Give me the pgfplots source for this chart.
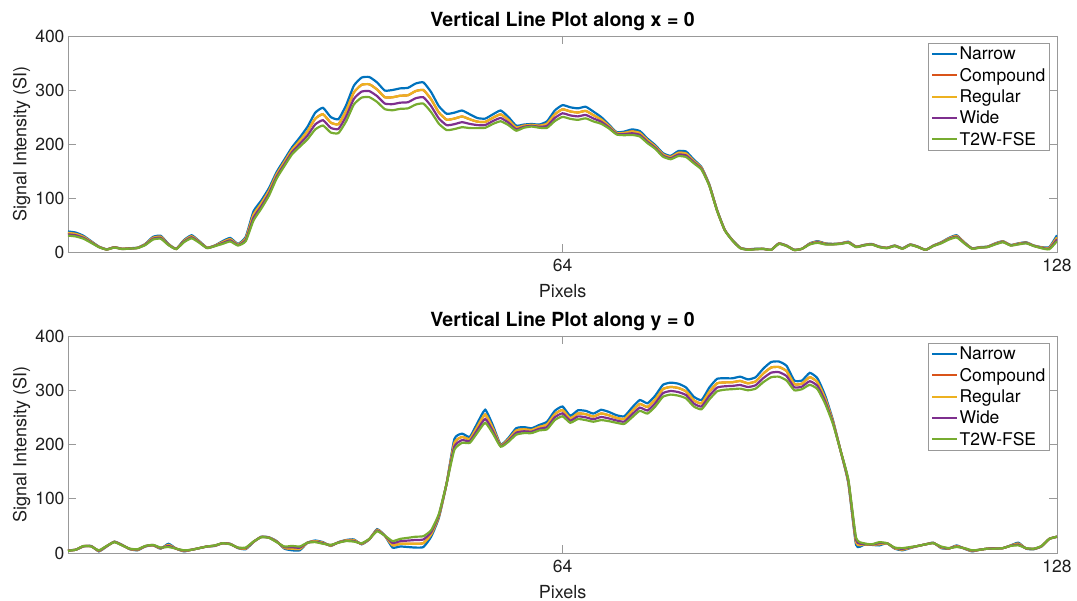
\documentclass[border=0pt]{standalone}
\usepackage{fontspec}
\setmainfont{TeX Gyre Heros}
\usepackage{pgfplots}
\usepackage{pgfplotstable}
\pgfplotsset{compat=1.18}
\definecolor{mblue}{rgb}{0,0.447,0.741}
\definecolor{mred}{rgb}{0.85,0.325,0.098}
\definecolor{myellow}{rgb}{0.929,0.694,0.125}
\definecolor{mpurple}{rgb}{0.494,0.184,0.556}
\definecolor{mgreen}{rgb}{0.466,0.674,0.188}

% columns: x narrow compound regular wide t2w
\pgfplotstableread{
x n c r w t
0 38 35.3 35.3 32.7 30.4
1 36 33.4 33.4 31 28.8
2 30 28.1 28.1 26.2 24.6
3 20 18.9 18.9 17.9 17
4 10 9.6 9.6 9.3 9
5 5 4.8 4.8 4.7 4.5
6 9 8.7 8.7 8.4 8.1
7 6 5.8 5.8 5.6 5.4
8 7 6.7 6.7 6.5 6.3
9 8 7.7 7.7 7.4 7.2
10 15 14.2 14.2 13.4 12.8
11 28 26.2 26.2 24.5 23
12 30 28.1 28.1 26.2 24.6
13 15 14.2 14.2 13.4 12.8
14 6 5.8 5.8 5.6 5.4
15 22 20.6 20.6 19.2 18
16 31 29 29 27.1 25.4
17 20 18.9 18.9 17.9 17
18 8 7.7 7.7 7.4 7.2
19 12 11.6 11.6 11.2 10.8
20 20 18.2 18.2 16.5 15
21 26 23.7 23.7 21.5 19.5
22 15 13.9 13.9 12.9 12
23 28 25.1 25.1 22.4 20
24 75 68.9 68.9 63.1 58
25 95 89.6 89.6 84.5 80
26 118 113 113 108.2 104
27 148 143.7 143.7 139.6 136
28 171 166.7 166.7 162.6 159
29 194 189.3 189.3 184.9 181
30 212 205.9 205.9 200.1 195
31 232 223.6 223.6 215.8 208.8
32 258 246.9 246.9 236.3 227
33 267 255.2 255.2 244 234.2
34 250 239.7 239.7 229.9 221.3
35 246 236.7 236.7 227.9 220.2
36 272 261.2 261.2 251.1 242.1
37 308 295.5 295.5 283.6 273.2
38 323 309.6 309.6 297 285.9
39 324 310.6 310.6 297.9 286.7
40 314 301 301 288.7 277.9
41 299 286.6 286.6 274.9 264.6
42 300 286.5 286.5 273.8 262.5
43 303 289.4 289.4 276.5 265.1
44 304 290.3 290.3 277.4 266
45 312 298 298 284.7 273
46 314 299.9 299.9 286.5 274.8
47 296 282.7 282.7 270.1 259
48 270 258.3 258.3 247.3 237.6
49 256 245.1 245.1 234.9 225.8
50 258 247 247 236.7 227.6
51 262 250.9 250.9 240.4 231.1
52 255 245.8 245.8 237.2 229.5
53 248 241.3 241.3 235 229.4
54 247 240.9 240.9 235.1 230
55 255 248.6 248.6 242.5 237.2
56 262 254.8 254.8 248.1 242.1
57 250 244.6 244.6 239.5 235
58 234 230.6 230.6 227.4 224.6
59 236 233.9 233.9 231.9 230.1
60 237 235.3 235.3 233.7 232.3
61 236 233.9 233.9 231.9 230.1
62 242 237.6 237.6 233.5 229.9
63 262 254.9 254.9 248.2 242.4
64 272 264.2 264.2 256.8 250.2
65 268 260.3 260.3 253 246.6
66 266 258.3 258.3 251.1 244.7
67 269 261.3 261.3 253.9 247.5
68 260 253.4 253.4 247.3 241.8
69 250 245.5 245.5 241.3 237.5
70 236 233.5 233.5 231 228.9
71 222 220.4 220.4 218.9 217.6
72 223 220.6 220.6 218.3 216.3
73 227 223.3 223.3 219.8 216.8
74 224 220.4 220.4 216.9 213.9
75 210 207 207 204.1 201.6
76 198 195.5 195.5 193.1 191.1
77 183 180.7 180.7 178.5 176.6
78 178 175.8 175.8 173.6 171.8
79 187 183.6 183.6 180.5 177.7
80 186 182.3 182.3 178.8 175.8
81 171 168.5 168.5 166.2 164.2
82 157 155.3 155.3 153.7 152.3
83 125 124.1 124.1 123.3 122.5
84 78 77.4 77.4 76.9 76.4
85 41 40.7 40.7 40.4 40.2
86 22 21.6 21.6 21.2 20.9
87 8 7.6 7.6 7.3 7
88 5 4.6 4.6 4.3 4
89 6 5.6 5.6 5.3 5
90 6 5.8 5.8 5.7 5.5
91 4 4 4 4 4
92 16 15.6 15.6 15.3 15
93 12 11.6 11.6 11.3 11
94 4 3.8 3.8 3.7 3.5
95 6 6 6 6 6
96 16 15.3 15.3 14.6 14
97 20 18.9 18.9 17.9 17
98 16 15.3 15.3 14.6 14
99 15 14.6 14.6 14.3 14
100 16 15.6 15.6 15.3 15
101 19 18.3 18.3 17.6 17
102 10 9.6 9.6 9.3 9
103 13 12.6 12.6 12.3 12
104 15 14.6 14.6 14.3 14
105 10 9.6 9.6 9.3 9
106 8 7.6 7.6 7.3 7
107 12 11.6 11.6 11.3 11
108 7 6.6 6.6 6.3 6
109 14 13.6 13.6 13.3 13
110 10 9.6 9.6 9.3 9
111 4 4 4 4 4
112 12 11.6 11.6 11.3 11
113 18 17.3 17.3 16.6 16
114 26 24.9 24.9 23.9 23
115 31 29.6 29.6 28.2 27
116 18 17.3 17.3 16.6 16
117 7 6.6 6.6 6.3 6
118 9 8.6 8.6 8.3 8
119 10 9.6 9.6 9.3 9
120 16 15.3 15.3 14.6 14
121 20 19.3 19.3 18.6 18
122 13 12.6 12.6 12.3 12
123 16 15.3 15.3 14.6 14
124 18 17.3 17.3 16.6 16
125 12 11.6 11.6 11.3 11
126 9 8.3 8.3 7.6 7
127 9 7.6 7.6 6.2 5
128 31 27 27 23.3 20
}\toptable

\pgfplotstableread{
x n c r w t
0 5 4.6 4.6 4.3 4
1 6 6 6 6 6
2 12 12.4 12.4 12.7 13
3 13 12.6 12.6 12.3 12
4 3 3.7 3.7 4.4 5
5 12 12.4 12.4 12.7 13
6 21 20.6 20.6 20.3 20
7 15 14.6 14.6 14.3 14
8 7 7.4 7.4 7.7 8
9 5 5.7 5.7 6.4 7
10 12 12.4 12.4 12.7 13
11 14 14.4 14.4 14.7 15
12 8 8.7 8.7 9.4 10
13 17 14.8 14.8 12.8 11
14 8 8 8 8 8
15 3 3.7 3.7 4.4 5
16 6 6 6 6 6
17 9 9 9 9 9
18 12 12 12 12 12
19 13 13.4 13.4 13.7 14
20 18 18 18 18 18
21 17 16.6 16.6 16.3 16
22 9 9.4 9.4 9.7 10
23 7 8.1 8.1 9.1 10
24 20 20.4 20.4 20.7 21
25 30 29.6 29.6 29.3 29
26 29 28.6 28.6 28.3 28
27 22 21.3 21.3 20.6 20
28 8 9.4 9.4 10.8 12
29 5 7.9 7.9 10.6 13
30 5 7.5 7.5 9.9 12
31 19 19 19 19 19
32 23 21.9 21.9 20.9 20
33 20 18.9 18.9 17.9 17
34 13 13.7 13.7 14.4 15
35 20 19.6 19.6 19.3 19
36 24 23.3 23.3 22.6 22
37 25 23.6 23.6 22.2 21
38 16 16.7 16.7 17.4 18
39 25 25.4 25.4 25.7 26
40 44 42.6 42.6 41.2 40
41 32 32 32 32 32
42 10 14.3 14.3 18.4 22
43 12 17 17 21.8 26
44 11 17.1 17.1 22.9 28
45 10 17.2 17.2 24 30
46 11 18.2 18.2 25 31
47 30 34.3 34.3 38.4 42
48 65 67.5 67.5 69.9 72
49 128 128 128 128 128
50 210 202.8 202.8 196 190
51 220 213.9 213.9 208.1 203
52 214 210 210 206.3 203
53 240 233.5 233.5 227.4 222
54 264 255.4 255.4 247.2 240
55 235 229.6 229.6 224.5 220
56 200 198.6 198.6 197.2 196
57 212 209.5 209.5 207.1 205
58 230 225.7 225.7 221.6 218
59 232 228 228 224.3 221
60 230 226.8 226.8 223.7 221
61 236 232.4 232.4 229 226
62 242 237 237 232.2 228
63 262 255.9 255.9 250.1 245
64 270 263.5 263.5 257.4 252
65 253 248.3 248.3 243.9 240
66 263 257.2 257.2 251.8 247
67 262 255.9 255.9 250.1 245
68 257 251.6 251.6 246.5 242
69 264 257.2 257.2 250.7 245
70 260 253.9 253.9 248.1 243
71 254 249 249 244.2 240
72 252 247 247 242.2 238
73 268 261.5 261.5 255.4 250
74 282 274.8 274.8 268 262
75 276 269.2 269.2 262.7 257
76 290 282.8 282.8 276 270
77 310 302.1 302.1 294.6 288
78 314 306.1 306.1 298.6 292
79 312 304.1 304.1 296.6 290
80 305 297.8 297.8 291 285
81 288 281.5 281.5 275.4 270
82 282 275.9 275.9 270.1 265
83 305 297.1 297.1 289.6 283
84 321 312.7 312.7 304.9 298
85 322 314.4 314.4 307.3 301
86 322 314.8 314.8 308 302
87 325 317.1 317.1 309.6 303
88 320 312.8 312.8 306 300
89 324 316.4 316.4 309.3 303
90 340 331 331 322.5 315
91 352 341.9 341.9 332.4 324
92 353 342.9 342.9 333.4 325
93 345 335.3 335.3 326.1 318
94 318 311.5 311.5 305.4 300
95 318 312.2 312.2 306.8 302
96 332 324.1 324.1 316.6 310
97 322 314.8 314.8 308 302
98 290 284.6 284.6 279.5 275
99 245 242.5 242.5 240.1 238
100 188 188 188 188 188
101 128 130.5 130.5 132.9 135
102 15 19.7 19.7 24.1 28
103 15 16.1 16.1 17.1 18
104 15 15.4 15.4 15.7 16
105 14 16.2 16.2 18.2 20
106 18 18 18 18 18
107 8 8.7 8.7 9.4 10
108 5 6.4 6.4 7.8 9
109 9 9.7 9.7 10.4 11
110 13 13 13 13 13
111 16 16 16 16 16
112 19 18.6 18.6 18.3 18
113 9 10.1 10.1 11.1 12
114 8 8.4 8.4 8.7 9
115 14 12.9 12.9 11.9 11
116 8 8.4 8.4 8.7 9
117 3 3.7 3.7 4.4 5
118 6 6 6 6 6
119 8 8 8 8 8
120 9 8.6 8.6 8.3 8
121 9 9 9 9 9
122 14 13.6 13.6 13.3 13
123 19 17.2 17.2 15.5 14
124 8 8.4 8.4 8.7 9
125 7 7.4 7.4 7.7 8
126 12 12.4 12.4 12.7 13
127 26 26 26 26 26
128 30 30 30 30 30
}\bottable

\pgfplotsset{
  mstyle/.style={
    scale only axis, width=989pt, height=216pt,
    xmin=0, xmax=128, ymin=0, ymax=400,
    xtick={64,128}, ytick={0,100,200,300,400},
    tick align=inside, major tick length=8pt,
    axis line style={draw=black!40, line width=0.8pt},
    tick style={draw=black!40, line width=0.8pt},
    ticklabel style={font=\fontsize{17.5}{20}\selectfont, text=black!88},
    xticklabel style={yshift=-4pt},
    /pgf/number format/assume math mode=true,
    xlabel={Pixels}, ylabel={Signal Intensity (SI)},
    label style={font=\fontsize{18}{21}\selectfont, text=black!88},
    xlabel style={yshift=-5pt},
    ylabel style={yshift=-2pt},
    title style={font=\fontsize{19.5}{22}\selectfont\bfseries, yshift=-4pt},
    legend cell align=left,
    legend style={at={(0.993,0.968)}, anchor=north east,
      draw=black!40, line width=0.6pt,
      font=\fontsize{17.5}{20}\selectfont,
      row sep=4pt, inner xsep=3pt, inner ysep=2pt,
      nodes={inner sep=1.5pt}},
    legend image code/.code={\draw[#1, line width=2pt] (0pt,0pt) -- (25pt,0pt);},
    every axis plot/.append style={line width=2.2pt, smooth, tension=0.3},
  }
}

\begin{document}
\begin{tikzpicture}
\path[use as bounding box] (0pt,0pt) rectangle (1077pt,-601pt);
\begin{axis}[mstyle, at={(68pt,-36pt)}, anchor=north west,
  title={Vertical Line Plot along x = 0}]
\addplot[mblue] table[x=x,y=n] {\toptable};
\addplot[mred] table[x=x,y=c] {\toptable};
\addplot[myellow] table[x=x,y=r] {\toptable};
\addplot[mpurple] table[x=x,y=w] {\toptable};
\addplot[mgreen] table[x=x,y=t] {\toptable};
\legend{Narrow,Compound,Regular,Wide,T2W-FSE}
\end{axis}
\begin{axis}[mstyle, at={(68pt,-336pt)}, anchor=north west, height=217pt,
  title={Vertical Line Plot along y = 0}]
\addplot[mblue] table[x=x,y=n] {\bottable};
\addplot[mred] table[x=x,y=c] {\bottable};
\addplot[myellow] table[x=x,y=r] {\bottable};
\addplot[mpurple] table[x=x,y=w] {\bottable};
\addplot[mgreen] table[x=x,y=t] {\bottable};
\legend{Narrow,Compound,Regular,Wide,T2W-FSE}
\end{axis}
\end{tikzpicture}
\end{document}
